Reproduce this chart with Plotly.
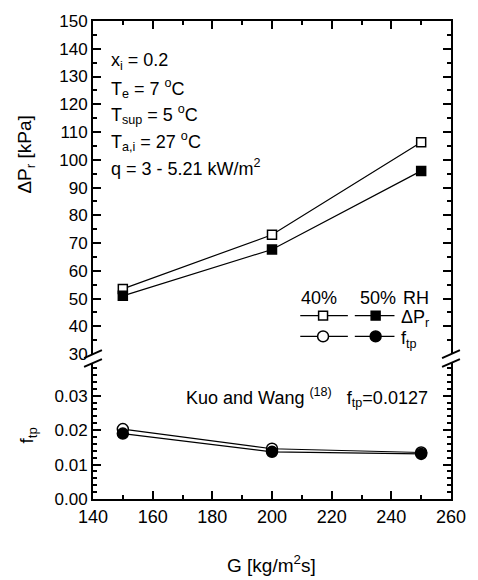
import plotly.graph_objects as go

# ---------------- data ----------------
G = [150, 200, 250]
dp_40 = [53.5, 73.0, 106.3]
dp_50 = [51.0, 67.7, 96.0]
ftp_40 = [0.0203, 0.0146, 0.0135]
ftp_50 = [0.0190, 0.0137, 0.0131]

x_ticks = [140, 160, 180, 200, 220, 240, 260]

# ---------------- layout geometry ----------------
W, H = 478, 580
ML, MR, MT, MB = 93, 24, 14, 81
PW = W - ML - MR
PH = H - MT - MB


def px(x):
    return (x - ML) / PW


def py(y):
    return (H - MB - y) / PH


TOP_BOTTOM = py(352)
BOT_TOP = py(361)

FONT = "Liberation Sans, Arial, Helvetica, sans-serif"
BLACK = "black"

fig = go.Figure()

# top panel (pressure drop)
fig.add_trace(go.Scatter(x=G, y=dp_40, xaxis="x2", yaxis="y", mode="lines+markers",
                         line=dict(color=BLACK, width=1.2),
                         marker=dict(symbol="square", size=9, color="white",
                                     line=dict(color=BLACK, width=1.5)),
                         showlegend=False))
fig.add_trace(go.Scatter(x=G, y=dp_50, xaxis="x2", yaxis="y", mode="lines+markers",
                         line=dict(color=BLACK, width=1.2),
                         marker=dict(symbol="square", size=9, color=BLACK,
                                     line=dict(color=BLACK, width=1.5)),
                         showlegend=False))
# bottom panel (friction factor)
fig.add_trace(go.Scatter(x=G, y=ftp_40, xaxis="x", yaxis="y2", mode="lines+markers",
                         line=dict(color=BLACK, width=1.2),
                         marker=dict(symbol="circle", size=11, color="white",
                                     line=dict(color=BLACK, width=1.5)),
                         showlegend=False))
fig.add_trace(go.Scatter(x=G, y=ftp_50, xaxis="x", yaxis="y2", mode="lines+markers",
                         line=dict(color=BLACK, width=1.2),
                         marker=dict(symbol="circle", size=11, color=BLACK,
                                     line=dict(color=BLACK, width=1.5)),
                         showlegend=False))

axis_common = dict(showline=True, linecolor=BLACK, linewidth=2, ticks="inside",
                   tickcolor=BLACK, tickwidth=1.5, ticklen=8, showgrid=False,
                   zeroline=False)

fig.update_layout(
    width=W, height=H,
    margin=dict(l=ML, r=MR, t=MT, b=MB),
    paper_bgcolor="white", plot_bgcolor="white",
    font=dict(family=FONT, color=BLACK, size=17),
    xaxis=dict(**axis_common, domain=[0, 1], anchor="y2", range=[140, 260],
               tickvals=x_ticks, tickfont=dict(size=18),
               minor=dict(dtick=10, ticks="inside", ticklen=4, tickcolor=BLACK, tickwidth=1.5)),
    xaxis2=dict(**axis_common, domain=[0, 1], anchor="y", side="top", matches="x",
                range=[140, 260], tickvals=x_ticks, showticklabels=False,
                minor=dict(dtick=10, ticks="inside", ticklen=4, tickcolor=BLACK, tickwidth=1.5)),
    yaxis=dict(**axis_common, domain=[TOP_BOTTOM, 1], anchor="x2", range=[30, 150],
               dtick=10, mirror="ticks", tickfont=dict(size=17),
               minor=dict(dtick=5, ticks="inside", ticklen=4, tickcolor=BLACK, tickwidth=1.5)),
    yaxis2=dict(**axis_common, domain=[0, BOT_TOP], anchor="x", range=[0, 0.0395],
                dtick=0.01, tickformat=".2f", mirror="ticks", tickfont=dict(size=17),
                minor=dict(dtick=0.002, ticks="inside", ticklen=4, tickcolor=BLACK, tickwidth=1.5)),
)

shapes = []
# axis break marks
for xb in (ML, ML + PW):
    for yb in (352, 361):
        shapes.append(dict(type="line", xref="paper", yref="paper",
                           x0=px(xb - 9), y0=py(yb + 4), x1=px(xb + 9), y1=py(yb - 4),
                           line=dict(color=BLACK, width=2)))
    shapes.append(dict(type="line", xref="paper", yref="paper",
                       x0=px(xb), y0=py(354), x1=px(xb), y1=py(359),
                       line=dict(color="white", width=4)))

# legend keys
LEG_ROWS = [(313, "square"), (334, "circle")]
for ry, kind in LEG_ROWS:
    for (l0, l1, cx, fill) in [(302, 350, 325, "white"), (357, 397, 378, BLACK)]:
        shapes.append(dict(type="line", xref="paper", yref="paper",
                           x0=px(l0), y0=py(ry), x1=px(l1), y1=py(ry),
                           line=dict(color=BLACK, width=1.2)))
        r = 4.5 if kind == "square" else 5.5
        shapes.append(dict(type="rect" if kind == "square" else "circle",
                           xref="paper", yref="paper",
                           x0=px(cx - r), x1=px(cx + r), y0=py(ry + r), y1=py(ry - r),
                           fillcolor=fill, line=dict(color=BLACK, width=1.5)))
fig.update_layout(shapes=shapes)

ann = []


def text(x, y, s, size=18, xanchor="left", angle=0):
    ann.append(dict(x=px(x), y=py(y), xref="paper", yref="paper", text=s,
                    showarrow=False, xanchor=xanchor, yanchor="middle",
                    textangle=angle, font=dict(size=size, family=FONT, color=BLACK)))


# conditions block
cond = ["x<sub>i</sub> = 0.2",
        "T<sub>e</sub> = 7 <sup>o</sup>C",
        "T<sub>sup</sub> = 5 <sup>o</sup>C",
        "T<sub>a,i</sub> = 27 <sup>o</sup>C",
        "q = 3 - 5.21 kW/m<sup>2</sup>"]
for i, s in enumerate(cond):
    text(109, 55 + 27 * i, s)

# legend header and labels
text(321, 295, "40%", xanchor="center")
text(380, 295, "50%", xanchor="center")
text(419, 295, "RH", xanchor="center")
text(402, 316, "ΔP<sub>r</sub>")
text(402, 337, "f<sub>tp</sub>")

# correlation note
text(433, 396, "Kuo and Wang <sup>(18)</sup>   f<sub>tp</sub>=0.0127", xanchor="right")

# axis titles
text(25, 150, "ΔP<sub>r</sub> [kPa]", size=19, xanchor="center", angle=-90)
text(27, 435, "f<sub>tp</sub>", size=19, xanchor="center", angle=-90)
text(273, 565, "G [kg/m<sup>2</sup>s]", size=19, xanchor="center")

fig.update_layout(annotations=ann)

fig.write_html("out.html")
